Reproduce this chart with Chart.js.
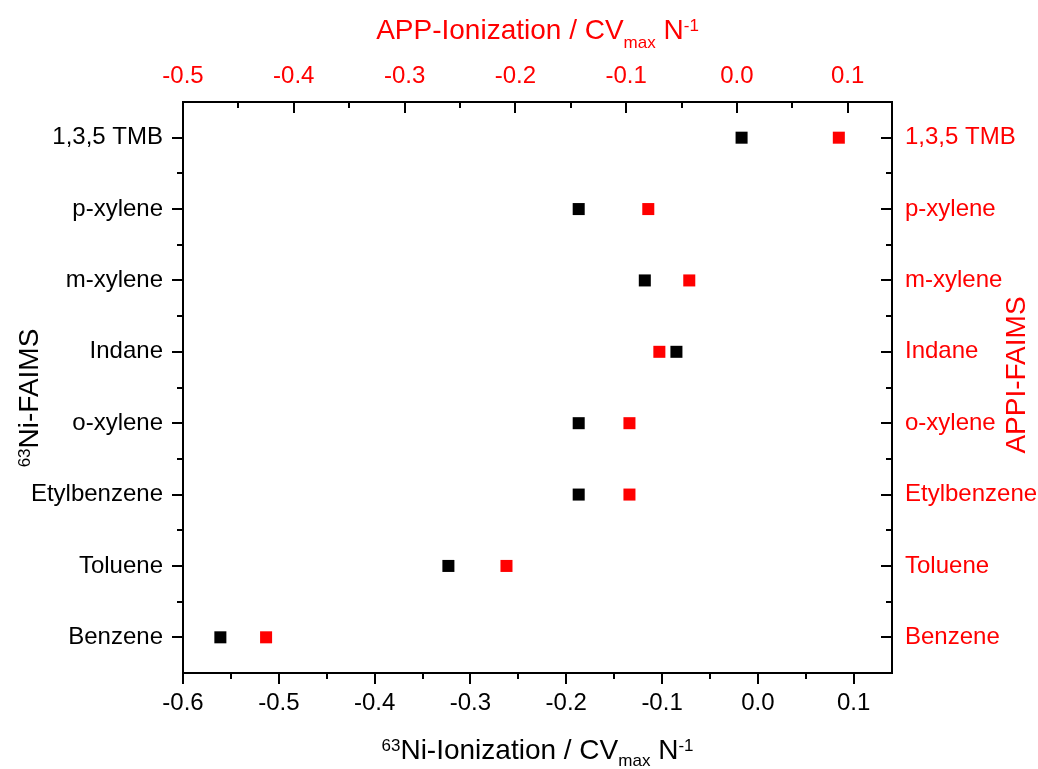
<!DOCTYPE html>
<html>
<head>
<meta charset="utf-8">
<script src="https://cdn.jsdelivr.net/npm/chart.js@4.4.0/dist/chart.umd.min.js"></script>
<style>
  html, body { margin: 0; padding: 0; background: #fff; }
  #wrap { width: 1038px; height: 769px; }
</style>
</head>
<body>
<div id="wrap"><canvas id="faimsChart"></canvas></div>
<script>
// compounds from bottom to top
const compounds = ['Benzene', 'Toluene', 'Etylbenzene', 'o-xylene', 'Indane', 'm-xylene', 'p-xylene', '1,3,5 TMB'];
const niValues = [-0.561, -0.323, -0.187, -0.187, -0.085, -0.118, -0.187, -0.017];
const appiValues = [-0.425, -0.208, -0.097, -0.097, -0.070, -0.043, -0.080, 0.092];
const bottomTicks = [-0.6, -0.5, -0.4, -0.3, -0.2, -0.1, 0.0, 0.1];
const topTicks = [-0.5, -0.4, -0.3, -0.2, -0.1, 0.0, 0.1];

const FONT = '"Liberation Sans", Arial, sans-serif';
const RED = '#ff0000';
const catPos = compounds.map((c, i) => i + 1);
const mids = arr => arr.slice(1).map((v, i) => (v + arr[i]) / 2);

function richWidth(ctx, parts, size) {
  let w = 0;
  parts.forEach(([t, k]) => {
    ctx.font = (k ? Math.round(size * 0.62) : size) + 'px ' + FONT;
    w += ctx.measureText(t).width;
  });
  return w;
}
function drawRich(ctx, parts, size, x, y, subDrop) {
  parts.forEach(([t, k]) => {
    const s = k ? Math.round(size * 0.62) : size;
    ctx.font = s + 'px ' + FONT;
    const dy = k === 'sup' ? -size * 0.3 : k === 'sub' ? (subDrop || size * 0.25) : 0;
    ctx.fillText(t, x, y + dy);
    x += ctx.measureText(t).width;
  });
}

const axisDecor = {
  id: 'axisDecor',
  afterDraw(chart) {
    const { ctx, chartArea: a, scales } = chart;
    ctx.save();
    ctx.strokeStyle = '#000';
    ctx.lineWidth = 2;
    const hTicks = (scale, vals, y0, dir, len) => vals.forEach(v => {
      const px = Math.round(scale.getPixelForValue(v));
      ctx.beginPath(); ctx.moveTo(px, y0); ctx.lineTo(px, y0 + dir * len); ctx.stroke();
    });
    const vTicks = (scale, vals, x0, dir, len) => vals.forEach(v => {
      const py = Math.round(scale.getPixelForValue(v));
      ctx.beginPath(); ctx.moveTo(x0, py); ctx.lineTo(x0 + dir * len, py); ctx.stroke();
    });
    hTicks(scales.x, bottomTicks, a.bottom, 1, 11);
    hTicks(scales.x, mids(bottomTicks), a.bottom, 1, 6);
    hTicks(scales.x2, topTicks, a.top, 1, 11);
    hTicks(scales.x2, mids(topTicks), a.top, 1, 6);
    vTicks(scales.y, catPos, a.left, -1, 11);
    vTicks(scales.y, mids(catPos), a.left, -1, 6);
    vTicks(scales.y2, catPos, a.right, -1, 11);
    vTicks(scales.y2, mids(catPos), a.right, -1, 6);

    // axis titles
    ctx.textBaseline = 'alphabetic';
    ctx.textAlign = 'left';
    const cx = (a.left + a.right) / 2;
    const topTitle = [['APP-Ionization / CV', ''], ['max', 'sub'], [' N', ''], ['-1', 'sup']];
    const botTitle = [['63', 'sup'], ['Ni-Ionization / CV', ''], ['max', 'sub'], [' N', ''], ['-1', 'sup']];
    ctx.fillStyle = RED;
    drawRich(ctx, topTitle, 28, cx - richWidth(ctx, topTitle, 28) / 2, 39, 9);
    ctx.fillStyle = '#000';
    drawRich(ctx, botTitle, 28, cx - richWidth(ctx, botTitle, 28) / 2, 759);

    const leftTitle = [['63', 'sup'], ['Ni-FAIMS', '']];
    ctx.save();
    ctx.translate(38, 398);
    ctx.rotate(-Math.PI / 2);
    drawRich(ctx, leftTitle, 28, -richWidth(ctx, leftTitle, 28) / 2, 0);
    ctx.restore();

    const rightTitle = [['APPI-FAIMS', '']];
    ctx.save();
    ctx.fillStyle = RED;
    ctx.translate(1025, 375);
    ctx.rotate(-Math.PI / 2);
    drawRich(ctx, rightTitle, 28, -richWidth(ctx, rightTitle, 28) / 2, 0);
    ctx.restore();
    ctx.restore();
  }
};

const frame = { display: true, color: '#000', width: 2 };
const noGrid = { drawOnChartArea: false, drawTicks: false };
const tickFont = { family: FONT, size: 24 };

new Chart(document.getElementById('faimsChart'), {
  type: 'scatter',
  data: {
    datasets: [{
      label: '63Ni-FAIMS',
      data: niValues.map((v, i) => ({ x: v, y: catPos[i] })),
      xAxisID: 'x', yAxisID: 'y',
      pointStyle: 'rect', pointRadius: 8.5, pointHoverRadius: 8.5,
      backgroundColor: '#000', borderWidth: 0
    }, {
      label: 'APPI-FAIMS',
      data: appiValues.map((v, i) => ({ x: v, y: catPos[i] })),
      xAxisID: 'x2', yAxisID: 'y',
      pointStyle: 'rect', pointRadius: 8.5, pointHoverRadius: 8.5,
      backgroundColor: RED, borderWidth: 0
    }]
  },
  options: {
    responsive: true,
    maintainAspectRatio: false,
    animation: false,
    layout: { padding: 0 },
    plugins: { legend: { display: false }, tooltip: { enabled: false } },
    scales: {
      x: {
        type: 'linear', position: 'bottom', min: -0.6, max: 0.14,
        afterBuildTicks: s => { s.ticks = bottomTicks.map(v => ({ value: v })); },
        afterFit: s => { s.height = 96; },
        ticks: { color: '#000', font: tickFont, padding: 16, maxRotation: 0, autoSkip: false, callback: v => v.toFixed(1) },
        grid: noGrid, border: frame
      },
      x2: {
        type: 'linear', position: 'top', min: -0.5, max: 0.14,
        afterBuildTicks: s => { s.ticks = topTicks.map(v => ({ value: v })); },
        afterFit: s => { s.height = 102; },
        ticks: { color: RED, font: tickFont, padding: 11, maxRotation: 0, autoSkip: false, callback: v => v.toFixed(1) },
        grid: noGrid, border: frame
      },
      y: {
        type: 'linear', position: 'left', min: 0.5, max: 8.5,
        afterBuildTicks: s => { s.ticks = catPos.map(v => ({ value: v })); },
        afterFit: s => { s.width = 183; },
        ticks: { color: '#000', font: tickFont, padding: 20, autoSkip: false, callback: v => compounds[v - 1] },
        grid: noGrid, border: frame
      },
      y2: {
        type: 'linear', position: 'right', min: 0.5, max: 8.5,
        afterBuildTicks: s => { s.ticks = catPos.map(v => ({ value: v })); },
        afterFit: s => { s.width = 146; },
        ticks: { color: RED, font: tickFont, padding: 13, autoSkip: false, callback: v => compounds[v - 1] },
        grid: noGrid, border: frame
      }
    }
  },
  plugins: [axisDecor]
});
</script>
</body>
</html>
